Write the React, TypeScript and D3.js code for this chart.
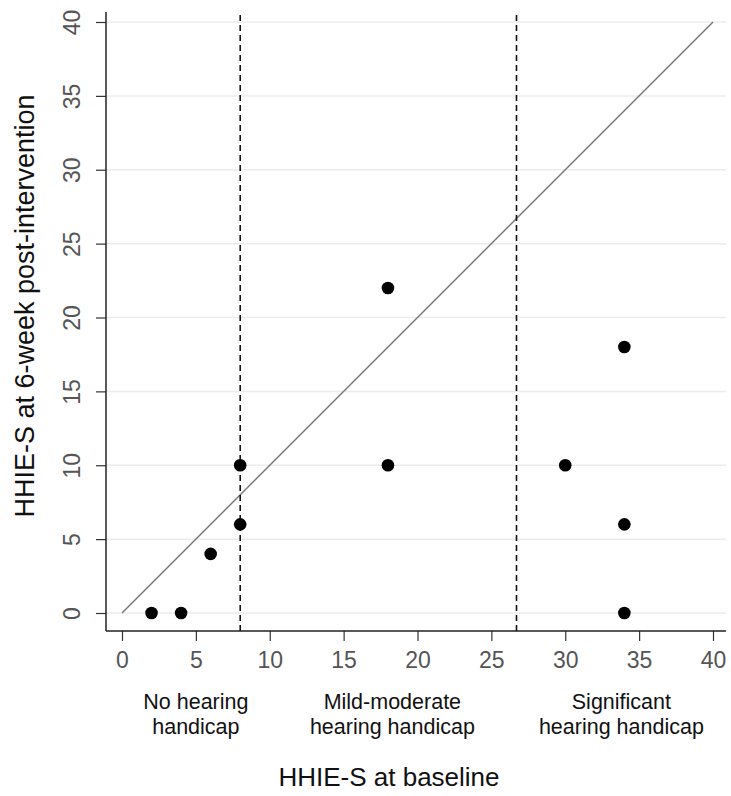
import * as d3 from 'd3';
import { useRef, useEffect } from 'react';

// baseline score vs 6-week score
const baseline = [2, 4, 6, 8, 8, 18, 18, 30, 34, 34, 34];
const followUp = [0, 0, 4, 6, 10, 10, 22, 10, 18, 6, 0];
const tickValues = [0, 5, 10, 15, 20, 25, 30, 35, 40];
const cutoffs = [8, 26.7];
const categories = [
    { lines: ['No hearing', 'handicap'], at: 5 },
    { lines: ['Mild-moderate', 'hearing handicap'], at: 18.3 },
    { lines: ['Significant', 'hearing handicap'], at: 33.8 }
];

export default function App() {
    const ref = useRef<SVGSVGElement>(null);

    useEffect(() => {
        document.body.style.margin = '0';
        const width = 731;
        const height = 796;
        const font = 'Liberation Sans, Arial, sans-serif';

        const svg = d3.select(ref.current);
        svg.selectAll('*').remove();
        svg.attr('width', width).attr('height', height);

        const x = d3.scaleLinear().domain([0, 40]).range([122, 713]);
        const y = d3.scaleLinear().domain([0, 40]).range([613, 22]);
        const axisX = 106;
        const axisY = 631;

        // gridlines
        svg.append('g')
            .selectAll('line')
            .data(tickValues)
            .enter()
            .append('line')
            .attr('x1', axisX)
            .attr('x2', 726)
            .attr('y1', d => y(d))
            .attr('y2', d => y(d))
            .attr('stroke', '#ececec')
            .attr('stroke-width', 1.5);

        // y axis
        const yAxis = svg.append('g')
            .attr('transform', `translate(${axisX},0)`)
            .call(d3.axisLeft(y).tickValues(tickValues).tickSize(10).tickSizeOuter(0));
        yAxis.select('.domain').remove();
        yAxis.append('line')
            .attr('x1', 0).attr('x2', 0)
            .attr('y1', 12).attr('y2', axisY)
            .attr('stroke', '#222').attr('stroke-width', 1.5);
        yAxis.selectAll('.tick line').attr('stroke', '#333').attr('stroke-width', 1.2);
        yAxis.selectAll('.tick text')
            .attr('x', null).attr('dy', null)
            .attr('transform', 'translate(-32,0) rotate(-90)')
            .attr('text-anchor', 'middle')
            .attr('dominant-baseline', 'middle')
            .style('font-family', font)
            .style('font-size', '23px')
            .attr('fill', '#555');

        // x axis
        const xAxis = svg.append('g')
            .attr('transform', `translate(0,${axisY})`)
            .call(d3.axisBottom(x).tickValues(tickValues).tickSize(10).tickSizeOuter(0));
        xAxis.select('.domain').remove();
        xAxis.append('line')
            .attr('x1', axisX).attr('x2', 726)
            .attr('y1', 0).attr('y2', 0)
            .attr('stroke', '#222').attr('stroke-width', 1.5);
        xAxis.selectAll('.tick line').attr('stroke', '#333').attr('stroke-width', 1.2);
        xAxis.selectAll('.tick text')
            .attr('y', 29)
            .attr('dy', '0.35em')
            .style('font-family', font)
            .style('font-size', '23px')
            .attr('fill', '#555');

        // identity line
        svg.append('line')
            .attr('x1', x(0)).attr('y1', y(0))
            .attr('x2', x(40)).attr('y2', y(40))
            .attr('stroke', '#777')
            .attr('stroke-width', 1.4);

        // cutoff lines
        svg.selectAll('.cutoff')
            .data(cutoffs)
            .enter()
            .append('line')
            .attr('class', 'cutoff')
            .attr('x1', d => x(d)).attr('x2', d => x(d))
            .attr('y1', 15).attr('y2', axisY)
            .attr('stroke', '#111')
            .attr('stroke-width', 1.6)
            .attr('stroke-dasharray', '6,4');

        // points
        svg.selectAll('circle')
            .data(baseline.map((b, i) => [b, followUp[i]]))
            .enter()
            .append('circle')
            .attr('cx', d => x(d[0]))
            .attr('cy', d => y(d[1]))
            .attr('r', 6.3)
            .attr('fill', '#000');

        // category labels
        const cat = svg.append('g');
        categories.forEach(c => {
            c.lines.forEach((line, j) => {
                cat.append('text')
                    .attr('x', x(c.at))
                    .attr('y', 701 + j * 25)
                    .attr('dy', '0.35em')
                    .attr('text-anchor', 'middle')
                    .style('font-family', font)
                    .style('font-size', '21.5px')
                    .attr('fill', '#111')
                    .text(line);
            });
        });

        // axis titles
        svg.append('text')
            .attr('x', 389)
            .attr('y', 777)
            .attr('dy', '0.35em')
            .attr('text-anchor', 'middle')
            .style('font-family', font)
            .style('font-size', '26px')
            .attr('fill', '#111')
            .text('HHIE-S at baseline');

        svg.append('text')
            .attr('transform', 'translate(25,306) rotate(-90)')
            .attr('dy', '0.35em')
            .attr('text-anchor', 'middle')
            .style('font-family', font)
            .style('font-size', '27px')
            .attr('fill', '#111')
            .text('HHIE-S at 6-week post-intervention');
    }, []);

    return <svg ref={ref} style={{ display: 'block' }}></svg>;
}
